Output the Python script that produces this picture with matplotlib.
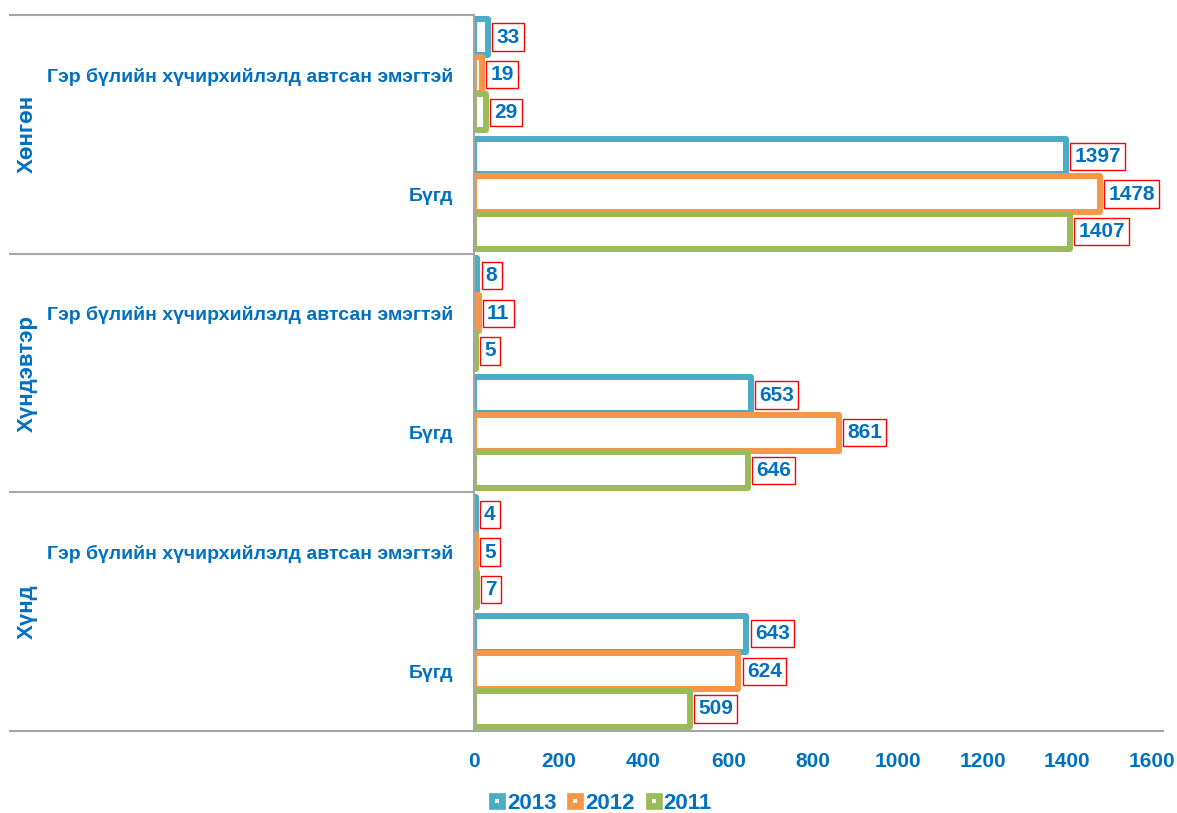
import matplotlib
matplotlib.use("Agg")
import matplotlib.pyplot as plt
from matplotlib.lines import Line2D
from matplotlib.legend_handler import HandlerTuple
import numpy as np

plt.rcParams['font.family'] = ['Liberation Sans Narrow', 'Liberation Sans', 'DejaVu Sans']
plt.rcParams['font.weight'] = 'bold'

groups = ["Хөнгөн", "Хүндэвтэр", "Хүнд"]
subcats = ["Гэр бүлийн хүчирхийлэлд автсан эмэгтэй", "Бүгд"]
series = ["2013", "2012", "2011"]
colors = ["#4BACC6", "#F79646", "#9BBB59"]
# values per series, order: Хөнгөн(Гэр, Бүгд), Хүндэвтэр(Гэр, Бүгд), Хүнд(Гэр, Бүгд)
v2013 = [33, 1397, 8, 653, 4, 643]
v2012 = [19, 1478, 11, 861, 5, 624]
v2011 = [29, 1407, 5, 646, 7, 509]
values = [v2013, v2012, v2011]
xticks = [0, 200, 400, 600, 800, 1000, 1200, 1400, 1600]

txt = "#0070C0"
W, H = 1177, 813
fig = plt.figure(figsize=(W / 100, H / 100), dpi=100)
ax = fig.add_axes([474 / W, 1 - 731 / H, (1152 - 474) / W, (731 - 15) / H])

n = len(v2013)
centers = np.arange(n) + 0.5
h = 0.315
offs = [-h, 0, h]
for vals, col, off in zip(values, colors, offs):
    bars = ax.barh(centers + off, vals, height=h * 0.95, facecolor="white",
                   edgecolor=col, linewidth=4.3)
    for b in bars:
        b.set_joinstyle("round")
    for y, v in zip(centers + off, vals):
        ax.annotate(str(v), xy=(v, y), xytext=(6, 0), textcoords="offset points",
                    ha="left", va="center", fontsize=15, fontweight="bold", color=txt,
                    bbox=dict(boxstyle="square,pad=0.2", fc="white", ec="red", lw=1))

ax.set_ylim(n, 0)
ax.set_xlim(0, 1600)
ax.set_xticks(xticks)
ax.set_xticklabels([str(t) for t in xticks], fontsize=15, fontweight="bold", color=txt)
ax.set_yticks(centers)
ax.set_yticklabels(subcats * len(groups), fontsize=14, fontweight="bold", color=txt)
ax.tick_params(axis="y", length=0, pad=15)
ax.tick_params(axis="x", length=0, pad=15)
for s in ["top", "right"]:
    ax.spines[s].set_visible(False)
ax.spines["left"].set_color("#A6A6A6")
ax.spines["bottom"].set_color("#A6A6A6")
ax.spines["left"].set_linewidth(1.5)
ax.spines["bottom"].set_linewidth(1.5)

# group separators and outer labels
x0 = (10 - 474) / (1152 - 474)
for k in range(len(groups) + 1):
    yv = 2 * k
    ax.plot([x0, 0], [yv, yv], transform=ax.get_yaxis_transform(), color="#A6A6A6",
            lw=1.5, clip_on=False)
ax.plot([1, 1.016], [n, n], transform=ax.get_yaxis_transform(), color="#A6A6A6",
        lw=1.5, clip_on=False)
for k, g in enumerate(groups):
    ax.text(x0 + 0.025, 2 * k + 1, g, transform=ax.get_yaxis_transform(), rotation=90,
            ha="center", va="center", fontsize=16, fontweight="bold", color=txt)

handles = [(Line2D([], [], marker="s", linestyle="none", markersize=11.5, markerfacecolor=c,
                   markeredgecolor=c, markeredgewidth=0.5),
            Line2D([], [], marker="s", linestyle="none", markersize=3, markerfacecolor="white",
                   markeredgecolor="white", markeredgewidth=0))
           for c in colors]
leg = fig.legend(handles, series, loc="center", bbox_to_anchor=(600 / W, 1 - 803 / H),
                 ncol=3, frameon=False, fontsize=16, handlelength=0.8, handletextpad=0.05,
                 columnspacing=0.45, handler_map={tuple: HandlerTuple(ndivide=1, pad=0)})
for t in leg.get_texts():
    t.set_color(txt)
    t.set_fontweight("bold")

fig.savefig("out.png", dpi=100)
